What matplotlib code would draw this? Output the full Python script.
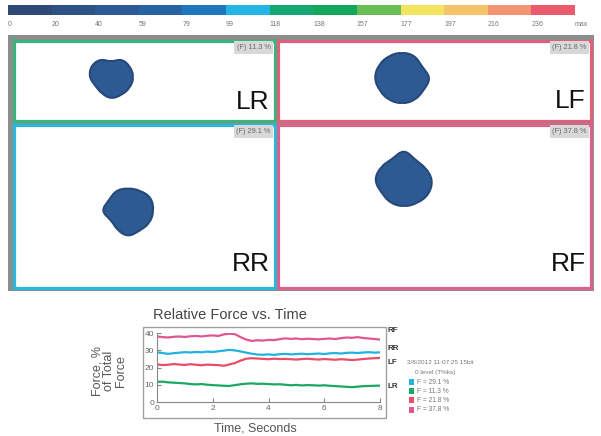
"""Pressure-mat screenshot: colour scale, 4 foot panels, relative force vs time."""
import numpy as np
import matplotlib; matplotlib.use("Agg")
import matplotlib.pyplot as plt
from matplotlib.patches import Rectangle, PathPatch
from matplotlib.path import Path

plt.rcParams['font.family'] = ['Liberation Sans', 'DejaVu Sans']

# ---- data ----
SCALE_LABELS = ['0', '20', '40', '59', '79', '99', '118', '138', '157', '177', '197', '216', '236', 'max']
SCALE_COLORS = ['#2f4a78', '#2d5285', '#2b5a94', '#2962a3', '#1f78bd', '#22b6e4', '#14a873',
                '#12a85c', '#66be55', '#f4e35c', '#f5c36a', '#f29374', '#ea5a6c']

PANELS = ['LR', 'LF', 'RR', 'RF']
PANEL_FORCE = [11.3, 21.8, 29.1, 37.8]
PANEL_COLORS = ['#3db27c', '#e0607a', '#2bb6dc', '#d8628a']
# blob outlines: centre (px) + radius every 30 deg (0=right, 90=down)
BLOB_CENTERS = [(111, 77), (402, 78), (128, 211), (404, 180)]
BLOB_RADII = [
    [23, 22, 21, 22, 19, 18, 22, 23, 21, 15, 21, 22],
    [29, 25, 26, 26, 26, 26, 28, 27, 26, 26, 26, 23],
    [26, 25, 23, 26, 22, 19, 27, 22, 24, 23, 24, 27],
    [29, 29, 27, 27, 27, 26, 30, 27, 24, 31, 23, 25],
]

TIME_S = np.linspace(0, 8, 41)
RF = [38.0, 37.6, 37.4, 37.8, 38.0, 37.7, 38.1, 38.3, 38.0, 38.4, 38.6, 38.3, 39.2, 39.6, 39.3,
      37.6, 36.2, 35.4, 35.8, 35.6, 36.0, 35.9, 36.4, 36.9, 36.6, 36.8, 36.4, 36.7, 36.5, 36.3,
      36.6, 36.8, 36.5, 37.0, 37.4, 37.2, 37.6, 37.1, 36.8, 36.5, 36.2]
RR = [28.8, 28.4, 27.9, 28.3, 28.6, 28.9, 28.7, 29.0, 28.8, 29.2, 29.0, 29.4, 29.8, 30.2, 29.9,
      29.3, 28.6, 28.0, 27.5, 27.4, 27.6, 27.3, 27.7, 27.9, 27.6, 27.8, 28.0, 27.7, 27.9, 28.1,
      27.8, 28.2, 28.4, 28.1, 28.5, 28.6, 28.4, 28.7, 28.9, 28.6, 28.8]
LF = [21.8, 21.4, 21.6, 22.0, 21.7, 21.5, 21.9, 21.6, 21.3, 21.7, 21.5, 21.4, 21.0, 21.8, 22.6,
      24.0, 25.1, 25.4, 25.2, 25.0, 24.8, 25.1, 24.9, 25.0, 24.8, 24.6, 24.9, 25.1, 24.8, 24.6,
      24.9, 24.7, 24.5, 24.8, 24.6, 24.3, 24.6, 24.9, 25.2, 25.4, 25.5]
LR = [11.7, 11.8, 11.4, 11.2, 11.0, 10.8, 10.4, 10.2, 10.4, 10.0, 9.8, 9.6, 9.4, 9.3, 9.8,
      10.3, 10.6, 10.8, 10.5, 10.6, 10.4, 10.2, 10.3, 10.0, 9.7, 9.9, 9.6, 9.8, 9.7, 9.5,
      9.7, 9.4, 9.2, 9.0, 8.8, 8.6, 8.9, 9.2, 9.3, 9.4, 9.5]
LINE_COLORS = {'RF': '#e0568f', 'RR': '#22b2e0', 'LF': '#e84e68', 'LR': '#1ba862'}
LEGEND_ROWS = [('RR', 29.1), ('LR', 11.3), ('LF', 21.8), ('RF', 37.8)]

W, H = 601, 436
fig = plt.figure(figsize=(W / 100, H / 100), dpi=100)


def rect(x0, y0, x1, y1):  # pixel box (top-left origin) -> figure fraction
    return [x0 / W, 1 - y1 / H, (x1 - x0) / W, (y1 - y0) / H]


def px(x, y):
    return x / W, 1 - y / H


# ---- colour scale ----
cax = fig.add_axes(rect(8, 5, 575, 15))
cax.bar(range(len(SCALE_COLORS)), 1, width=1, align='edge', color=SCALE_COLORS)
cax.set_xlim(0, len(SCALE_COLORS)); cax.set_ylim(0, 1)
cax.set_yticks([])
cax.set_xticks(range(len(SCALE_LABELS)), SCALE_LABELS)
cax.tick_params(length=0, labelsize=5, labelcolor='#777777', pad=4)
for t in cax.get_xticklabels():
    t.set_ha('left')
for sp in cax.spines.values():
    sp.set_visible(False)

# ---- foot panels ----
fig.add_artist(Rectangle(px(8, 291), 586 / W, 256 / H, transform=fig.transFigure,
                         facecolor='#8a8f8d', edgecolor='none', zorder=0))
boxes = {'LR': (13.5, 40.5, 274.5, 121.5), 'LF': (277.5, 40.5, 590.5, 121.5),
         'RR': (13.5, 124.5, 274.5, 287.5), 'RF': (277.5, 124.5, 590.5, 287.5)}
baseline = {'LR': 109, 'LF': 108, 'RR': 271, 'RF': 271}
ang = np.deg2rad(np.arange(0, 360, 30))
for name, force, col, (cx, cy), rad in zip(PANELS, PANEL_FORCE, PANEL_COLORS, BLOB_CENTERS, BLOB_RADII):
    x0, y0, x1, y1 = boxes[name]
    ax = fig.add_axes(rect(x0, y0, x1, y1))
    ax.set_xlim(x0, x1); ax.set_ylim(y1, y0)
    ax.set_xticks([]); ax.set_yticks([])
    for sp in ax.spines.values():
        sp.set_color(col); sp.set_linewidth(2.3)
    # smooth closed outline (quadratic B-spline through the radius points)
    pts = np.column_stack([cx + np.array(rad) * np.cos(ang), cy + np.array(rad) * np.sin(ang)])
    mids = (pts + np.roll(pts, -1, axis=0)) / 2
    verts = [mids[-1]]; codes = [Path.MOVETO]
    for p, m in zip(pts, mids):
        verts += [p, m]; codes += [Path.CURVE3, Path.CURVE3]
    ax.add_patch(PathPatch(Path(verts, codes), facecolor='#2d5a92', edgecolor='#27497a', lw=1.5))
    ax.text(x1 - 5, baseline[name], name, ha='right', va='baseline', fontsize=19, color='#111111')
    ax.text(x1 - 4, y0 + 3.5, f'(F) {force} %', ha='right', va='top', fontsize=5.3, color='#6a6a6a',
            bbox=dict(boxstyle='square,pad=0.35', fc='#d8d8d8', ec='none'))

# ---- relative force vs time ----
fig.add_artist(Rectangle(px(143, 418), 243 / W, 91 / H, transform=fig.transFigure,
                         facecolor='none', edgecolor='#a0a0a0', lw=1))
ax = fig.add_axes(rect(157, 333, 380, 402))
for name, ys in [('RF', RF), ('RR', RR), ('LF', LF), ('LR', LR)]:
    ax.plot(TIME_S, ys, color=LINE_COLORS[name], lw=1.6)
ax.set_xlim(0, 8); ax.set_ylim(0, 40)
ax.set_xticks([0, 2, 4, 6, 8]); ax.set_yticks([0, 10, 20, 30, 40])
ax.tick_params(direction='in', length=3, labelsize=6, labelcolor='#666666', color='#888888', pad=2)
for sp in ['top', 'right']:
    ax.spines[sp].set_visible(False)
for sp in ['left', 'bottom']:
    ax.spines[sp].set_color('#888888')
fig.text(*px(230, 315), 'Relative Force vs. Time', ha='center', va='center', fontsize=10.5, color='#444444')
fig.text(*px(255, 428), 'Time, Seconds', ha='center', va='center', fontsize=9, color='#555555')
fig.text(*px(109, 371), 'Force, %\nof Total\nForce', ha='center', va='center', rotation=90,
         fontsize=9, color='#555555', linespacing=1.0)
for name, y in [('RF', 331), ('RR', 348), ('LF', 363), ('LR', 386)]:
    fig.text(*px(388, y), name, ha='left', va='center', fontsize=5.8, color='#333333', weight='bold')
fig.text(*px(407, 363), '3/8/2012 11:07:25 15bit', ha='left', va='center', fontsize=4.6, color='#777777')
fig.text(*px(415, 372), '0 level (T%ks)', ha='left', va='center', fontsize=4.6, color='#777777')
for i, (name, val) in enumerate(LEGEND_ROWS):
    y = 382 + i * 9.2
    fig.add_artist(Rectangle(px(409, y + 3), 5 / W, 6 / H, transform=fig.transFigure,
                             facecolor=LINE_COLORS[name], edgecolor='none'))
    fig.text(*px(417, y), f'F = {val} %', ha='left', va='center', fontsize=4.8, color='#777777')

fig.savefig('out.png', dpi=100)
